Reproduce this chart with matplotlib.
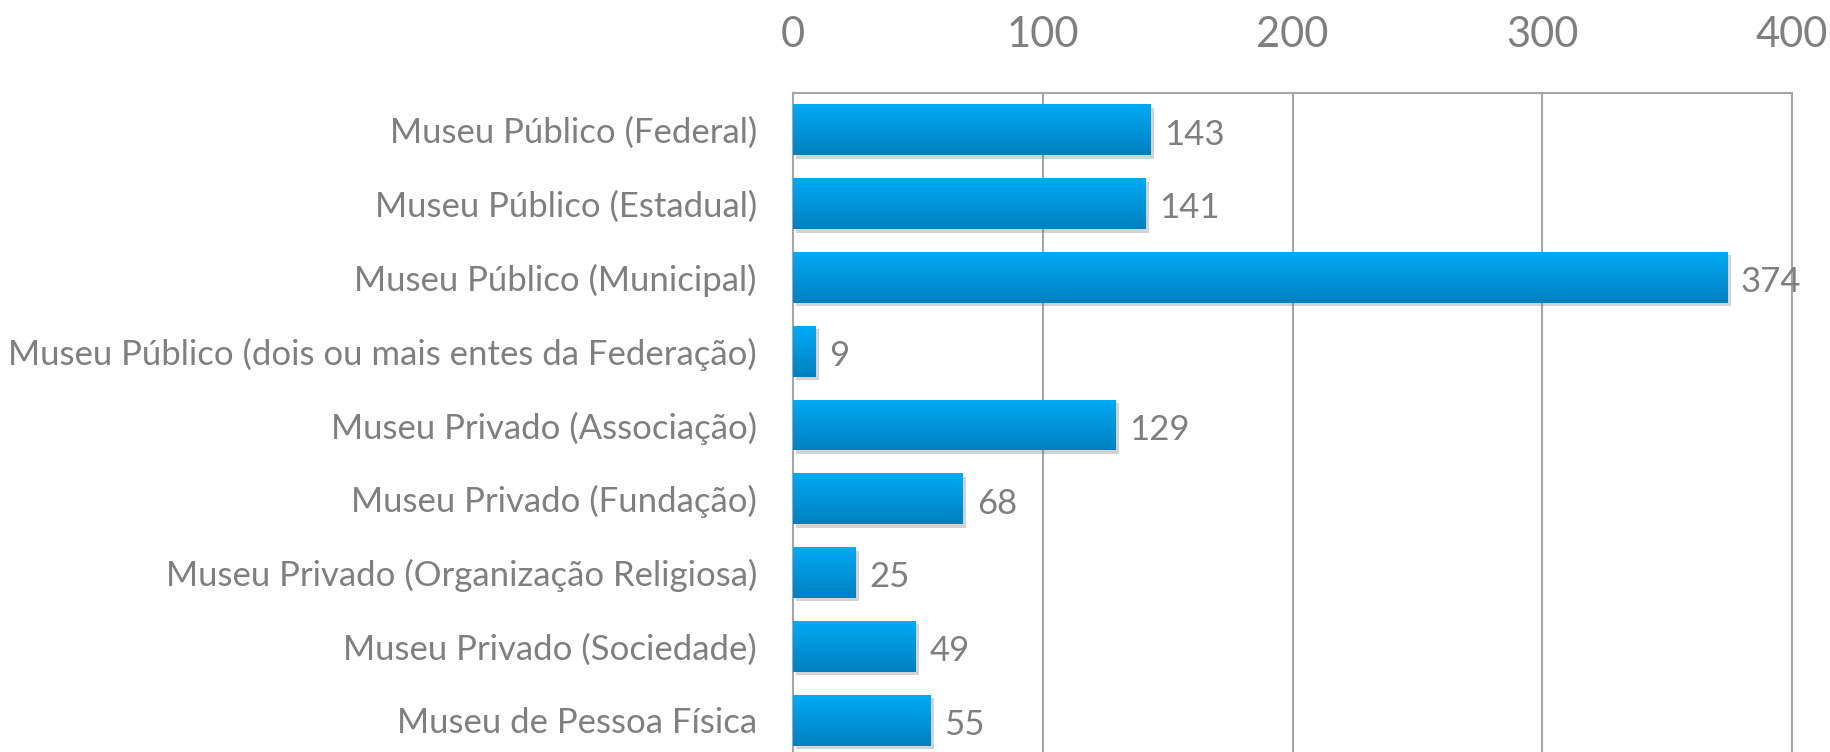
import numpy as np
import matplotlib
matplotlib.use("Agg")
import matplotlib.pyplot as plt
import matplotlib.patheffects as pe
from matplotlib.colors import LinearSegmentedColormap

categories = [
    "Museu Público (Federal)",
    "Museu Público (Estadual)",
    "Museu Público (Municipal)",
    "Museu Público (dois ou mais entes da Federação)",
    "Museu Privado (Associação)",
    "Museu Privado (Fundação)",
    "Museu Privado (Organização Religiosa)",
    "Museu Privado (Sociedade)",
    "Museu de Pessoa Física",
]
values = [143, 141, 374, 9, 129, 68, 25, 49, 55]
x_ticks = [0, 100, 200, 300, 400]

plt.rcParams['font.family'] = ['Lato', 'DejaVu Sans']
grey = '#7f7f7f'
line_grey = '#a6a6a6'

fig = plt.figure(figsize=(18.31, 7.52), dpi=100)
ax = fig.add_axes([0.4331, -0.0066, 0.5456, 0.883])

bar_h = 0.69
ypos = np.arange(len(categories))
bars = ax.barh(ypos, values, height=bar_h, color='#0096dc', zorder=3)

# vertical gradient fill on each bar, plus a soft shadow
cmap = LinearSegmentedColormap.from_list('blue', ['#00aaf5', '#0080c0'])
grad = np.linspace(0, 1, 100).reshape(-1, 1)
for b in bars:
    b.set_path_effects([pe.SimplePatchShadow(offset=(2.5, -2.5), shadow_rgbFace='#707070', alpha=0.3),
                        pe.Normal()])
    x0, y0 = b.get_x(), b.get_y()
    w, h = b.get_width(), b.get_height()
    im = ax.imshow(grad, extent=[x0, x0 + w, y0 + h, y0], cmap=cmap,
                   aspect='auto', zorder=4, interpolation='bicubic')
    im.set_clip_path(b)

for y, v in zip(ypos, values):
    ax.annotate(str(v), (v, y), xytext=(10, -3.5), textcoords='offset points',
                va='center', ha='left', fontsize=25, color=grey)

ax.set_xlim(0, 400)
ax.set_ylim(len(categories) - 0.5, -0.5)
ax.set_xticks(x_ticks)
ax.set_yticks(ypos)
ax.set_yticklabels(categories)
ax.xaxis.tick_top()
ax.tick_params(axis='x', length=0, pad=28, labelsize=30, labelcolor=grey)
ax.tick_params(axis='y', length=0, pad=26, labelsize=25, labelcolor=grey)
ax.grid(axis='x', color=line_grey, linewidth=1.5, zorder=0)
ax.set_axisbelow(True)
for s in ['left', 'top', 'right']:
    ax.spines[s].set_color(line_grey)
    ax.spines[s].set_linewidth(1.5)
ax.spines['bottom'].set_visible(False)

fig.savefig('out.png', dpi=100)
